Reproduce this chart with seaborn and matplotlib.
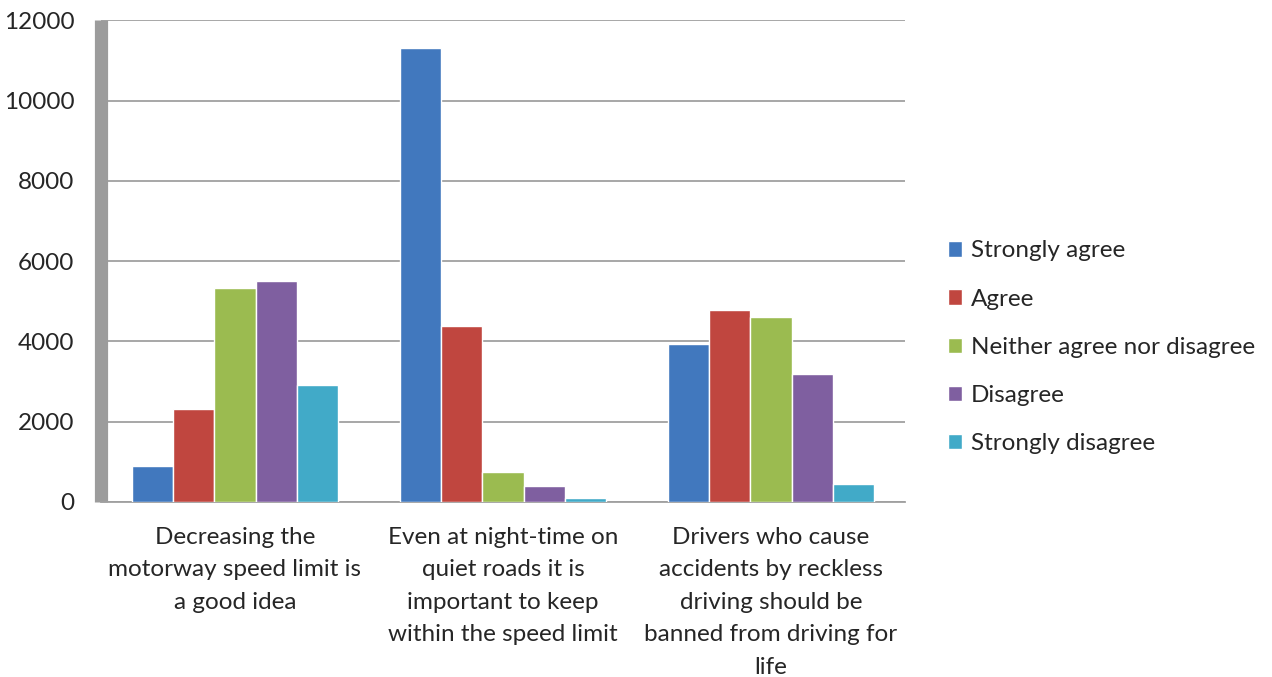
# Survey responses on speed limits and reckless driving, Excel-style grouped bars.
import matplotlib
matplotlib.use('Agg')
import matplotlib.pyplot as plt
import seaborn as sns
import pandas as pd


# === Data ===

statements = [
    'Decreasing the\nmotorway speed limit is\na good idea',
    'Even at night-time on\nquiet roads it is\nimportant to keep\nwithin the speed limit',
    'Drivers who cause\naccidents by reckless\ndriving should be\nbanned from driving for\nlife',
]
responses = ['Strongly agree', 'Agree', 'Neither agree nor disagree', 'Disagree', 'Strongly disagree']
strongly_agree = [900, 11320, 3930]
agree = [2320, 4390, 4780]
neither = [5320, 750, 4610]
disagree = [5500, 400, 3190]
strongly_disagree = [2910, 100, 450]
colors = ['#4178BE', '#C0463F', '#9BBB50', '#7F5FA0', '#41AAC8']

# Long format for seaborn.
series = [strongly_agree, agree, neither, disagree, strongly_disagree]
rows = []
for response, values in zip(responses, series):
    for statement, value in zip(statements, values):
        rows.append({'statement': statement, 'response': response, 'count': value})
df = pd.DataFrame(rows)


# === Setup ===

sns.set_style('white')
plt.rcParams['font.family'] = ['Lato', 'DejaVu Sans']
plt.rcParams['font.size'] = 17.5

fig = plt.figure(figsize=(12.72, 6.77), dpi=100)
ax = fig.add_axes([0.0794, 0.2585, 0.632, 0.7115])

sns.barplot(
    data=df, x='statement', y='count', hue='response',
    order=statements, hue_order=responses, palette=colors,
    saturation=1, width=0.77, ax=ax, zorder=3,
)

# Axes styling.
ax.set_ylim(0, 12000)
ax.set_xlim(-0.5, 2.5)
ax.set_yticks(range(0, 12001, 2000))
ax.set_xlabel('')
ax.set_ylabel('')
ax.yaxis.grid(True, color='#a0a0a0', linewidth=1.3, zorder=0)
ax.set_axisbelow(True)
for side in ['top', 'right']:
    ax.spines[side].set_visible(False)
ax.spines['left'].set_color('#9c9c9c')
ax.spines['left'].set_linewidth(9.5)
ax.spines['left'].set_capstyle('butt')
ax.spines['bottom'].set_color('#a0a0a0')
ax.spines['bottom'].set_linewidth(1.3)
ax.tick_params(axis='y', length=0, pad=19, labelsize=17.5)
ax.tick_params(axis='x', which='major', length=0, pad=18, labelsize=17.5)
ax.set_xticks([-0.5, 0.5, 1.5, 2.5], minor=True)
ax.tick_params(axis='x', which='minor', length=7, width=1.3, color='#a0a0a0', direction='out')
for label in ax.get_xticklabels():
    label.set_linespacing(1.67)
    label.set_multialignment('center')

# Legend on the right.
handles, labels = ax.get_legend_handles_labels()
ax.legend(
    handles, labels, loc='center left', bbox_to_anchor=(0.745, 0.487),
    bbox_transform=fig.transFigure, frameon=False, fontsize=17.5,
    handlelength=0.6, handleheight=0.6, handletextpad=0.35, labelspacing=1.12,
    borderaxespad=0, borderpad=0,
)

fig.savefig('out.png', dpi=100)
